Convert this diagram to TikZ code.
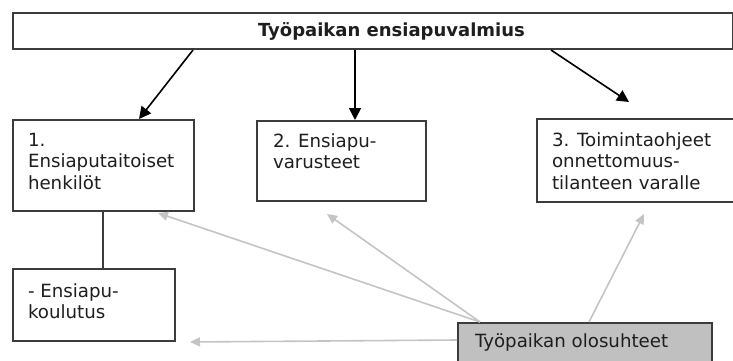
\documentclass[tikz,border=0pt]{standalone}
\usepackage{fontspec}
\setmainfont{DejaVu Sans}
\usetikzlibrary{arrows.meta}
\definecolor{boxline}{HTML}{3C3C3C}
\definecolor{lightarrow}{HTML}{C4C4C4}
\definecolor{shade}{HTML}{C0C0C0}
\definecolor{ink}{HTML}{1E1E1E}
\newcommand{\boxlines}[1]{\begin{tabular}[t]{@{}l@{}}#1\end{tabular}}
\begin{document}
\begin{tikzpicture}[x=1pt,y=-1pt,
  diagbox/.style={draw=boxline,line width=2pt,inner sep=0pt,anchor=north west,fill=white},
  boxtext/.style={inner sep=0pt,outer sep=0pt,anchor=base west,text=ink,font=\fontsize{18.2}{21.5}\selectfont},
  darrow/.style={draw=black,line width=1.6pt,-{Triangle[length=12pt,width=12pt]}},
  larrow/.style={draw=lightarrow,line width=1.6pt,-{Triangle[length=10pt,width=9pt]}},
  plainline/.style={draw=boxline,line width=1.8pt}]
\useasboundingbox (0,0) rectangle (733,361);
\clip (0,0) rectangle (733,361);
% boxes
\node[diagbox,minimum width=720pt,minimum height=36pt] (top) at (12,12) {};
\node[diagbox,minimum width=181pt,minimum height=91pt] (box1) at (12,119) {};
\node[diagbox,minimum width=169pt,minimum height=80pt] (box2) at (256,120) {};
\node[diagbox,minimum width=209pt,minimum height=83pt] (box3) at (536,118) {};
\node[diagbox,minimum width=162pt,minimum height=72pt] (box4) at (12,268) {};
\node[diagbox,fill=shade,minimum width=254pt,minimum height=48pt] (box5) at (457,322) {};
% texts
\node[boxtext,font=\fontsize{18}{21.5}\selectfont\bfseries] (ttop) at (258,37) {Työpaikan ensiapuvalmius};
\node[boxtext] (t1) at (28,146) {\boxlines{1.\\Ensiaputaitoiset\\henkilöt}};
\node[boxtext] (t2) at (273,147) {\boxlines{2. Ensiapu-\\varusteet}};
\node[boxtext] (t3) at (552,146) {\boxlines{3. Toimintaohjeet\\onnettomuus-\\tilanteen varalle}};
\node[boxtext] (t4) at (28,297) {\boxlines{- Ensiapu-\\koulutus}};
\node[boxtext] (t5) at (475,347) {Työpaikan olosuhteet};
% black arrows
\draw[darrow] ([xshift=181pt]top.south west) -- ([xshift=127pt]box1.north west);
\draw[darrow] ([xshift=343pt]top.south west) -- ([xshift=99pt]box2.north west);
\coordinate (a3end) at ([xshift=93pt,yshift=16pt]box3.north west);
\draw[darrow] ([xshift=539pt]top.south west) -- (a3end);
% connecting line
\draw[plainline] ([xshift=91pt]box1.south west) -- ([xshift=91pt]box4.north west);
% light arrows
\coordinate (g1end) at ([xshift=146pt,yshift=-1pt]box1.south west);
\coordinate (g2end) at ([xshift=71pt,yshift=-12pt]box2.south west);
\coordinate (g3end) at ([xshift=108pt,yshift=-11pt]box3.south west);
\coordinate (g4end) at ([xshift=14pt]box4.south east);
\draw[larrow] ([xshift=23pt]box5.north west) -- (g1end);
\draw[larrow] ([xshift=23pt]box5.north west) -- (g2end);
\draw[larrow] ([xshift=132pt]box5.north west) -- (g3end);
\draw[larrow] ([yshift=-18pt]box5.north west) -- (g4end);
\end{tikzpicture}
\end{document}
